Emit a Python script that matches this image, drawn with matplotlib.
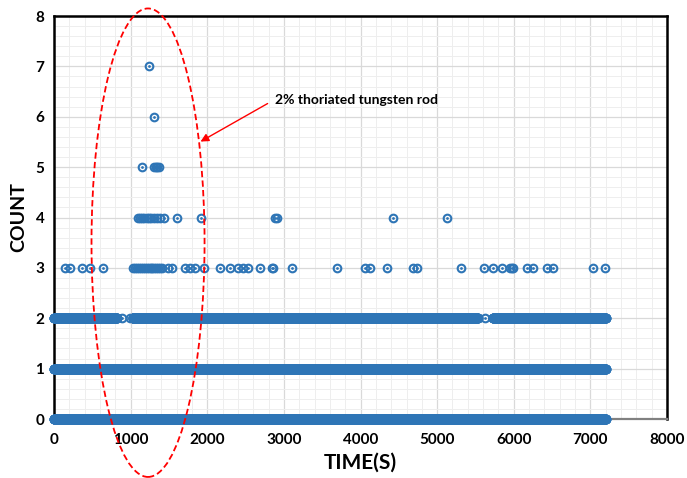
import numpy as np
import matplotlib
matplotlib.use('Agg')
import matplotlib.pyplot as plt
from matplotlib.patches import Ellipse

plt.rcParams['font.family'] = ['Lato', 'DejaVu Sans']

# recorded counts per time (s); dense levels given as spans of one-second samples
spans_0 = [(0, 7200)]
spans_1 = [(0, 7200)]
spans_2 = [(0, 820), (1030, 5530), (5730, 7200)]
times_2_extra = [890, 990, 5625]
times_3 = [145, 210, 365, 470, 640, 1035, 1060, 1085, 1110, 1135, 1160, 1185, 1210,
           1235, 1260, 1285, 1310, 1335, 1360, 1385, 1410, 1490, 1540, 1710, 1775,
           1840, 1960, 2165, 2300, 2400, 2465, 2530, 2690, 2840, 2860, 3105, 3695,
           4060, 4125, 4345, 4685, 4735, 5310, 5610, 5730, 5845, 5950, 5975, 5995,
           6175, 6250, 6435, 6510, 7035, 7195]
times_4 = [1090, 1120, 1150, 1180, 1210, 1240, 1270, 1300, 1340, 1380, 1440, 1605,
           1920, 2890, 2905, 4430, 5130]
times_5 = [1145, 1310, 1330, 1350, 1370]
times_6 = [1305]
times_7 = [1245]

x_ticks = [0, 1000, 2000, 3000, 4000, 5000, 6000, 7000, 8000]
y_ticks = [0, 1, 2, 3, 4, 5, 6, 7, 8]

blue = '#2E75B6'


def span_times(spans):
    return np.concatenate([np.arange(a, b + 1) for a, b in spans])


levels = [
    (0, span_times(spans_0)),
    (1, span_times(spans_1)),
    (2, np.concatenate([span_times(spans_2), times_2_extra])),
    (3, np.array(times_3)),
    (4, np.array(times_4)),
    (5, np.array(times_5)),
    (6, np.array(times_6)),
    (7, np.array(times_7)),
]

fig = plt.figure(figsize=(6.87, 4.78), dpi=100)
ax = fig.add_axes([0.0786, 0.1234, 0.8924, 0.8431])

for count, t in levels:
    y = np.full(len(t), count)
    ax.plot(t, y, 'o', ms=5.5, mfc='none', mec=blue, mew=1.5, zorder=3, clip_on=False)
    ax.plot(t, y, 'o', ms=2, color=blue, mew=0, zorder=3, clip_on=False)

ax.set_xlim(0, 8000)
ax.set_ylim(0, 8)
ax.set_xticks(x_ticks)
ax.set_yticks(y_ticks)
ax.set_xticks(np.arange(0, 8001, 200), minor=True)
ax.set_yticks(np.arange(0, 8.01, 0.2), minor=True)
ax.grid(which='major', color='#d9d9d9', lw=0.9, zorder=0)
ax.grid(which='minor', color='#eeeeee', lw=0.7, zorder=0)
ax.set_axisbelow(True)
ax.tick_params(which='both', length=0)
ax.tick_params(axis='x', pad=10)
ax.tick_params(axis='y', pad=7)
for lab in ax.get_xticklabels() + ax.get_yticklabels():
    lab.set_fontsize(11)
    lab.set_fontweight('bold')

for side in ['top', 'left', 'right']:
    ax.spines[side].set_color('black')
    ax.spines[side].set_linewidth(1.8)
ax.spines['bottom'].set_color('#808080')
ax.spines['bottom'].set_linewidth(1.6)

ax.set_xlabel('TIME(S)', fontsize=15, fontweight='bold', labelpad=4)
ax.set_ylabel('COUNT', fontsize=14, fontweight='bold', labelpad=6)

# highlight region
ell = Ellipse((1227, 3.5), 1475, 9.3, fill=False, edgecolor='red', lw=1.3,
              linestyle=(0, (3.5, 1.8)), zorder=5, clip_on=False)
ax.add_patch(ell)

ax.annotate('', xy=(1880, 5.48), xytext=(2819, 6.29),
            arrowprops=dict(arrowstyle='-|>', color='red', lw=1, mutation_scale=12),
            zorder=6)
ax.text(2880, 6.33, '2% thoriated tungsten rod', fontsize=10, fontweight='bold',
        va='center', ha='left', zorder=6)

plt.savefig('out.png', dpi=100)
